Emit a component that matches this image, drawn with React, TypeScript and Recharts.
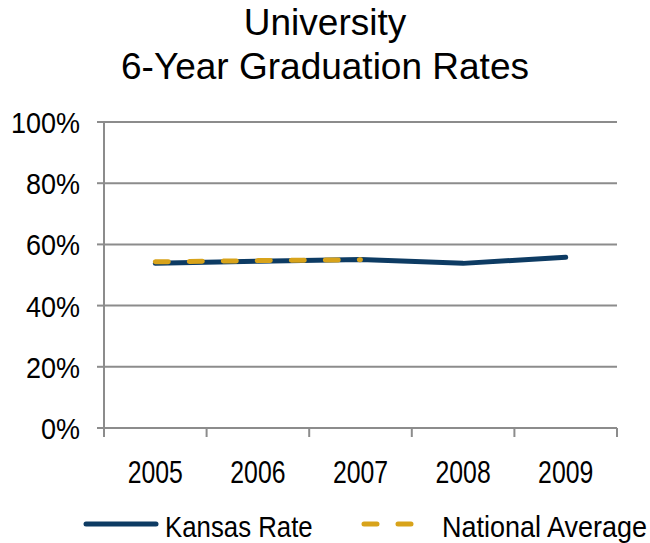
import { LineChart, Line, XAxis, YAxis, CartesianGrid, Legend } from "recharts";

const years = ["2005", "2006", "2007", "2008", "2009"];
const kansasRate = [53.8, 54.5, 55.1, 53.8, 55.8];
const nationalAverage: (number | null)[] = [54.3, 54.7, 55.0, null, null];
const yTicks = [0, 20, 40, 60, 80, 100];

const data = years.map((year, i) => ({
  year,
  kansas: kansasRate[i],
  national: nationalAverage[i],
}));

const W = 650;
const H = 543;
const LEFT = 104;
const RIGHT = 33;
const band = (W - LEFT - RIGHT) / years.length;
const gridColor = "#8c8c8c";
const navy = "#0d3b63";
const gold = "#d8a31a";
const font = "'Liberation Sans', Arial, sans-serif";

// the reference uses a condensed face, so squeeze the regular one
const CondText = ({ x, y, size, sx, anchor, children }: any) => (
  <text
    transform={`translate(${x},${y}) scale(${sx},1)`}
    textAnchor={anchor}
    fontSize={size}
    fill="#000"
    fontFamily={font}
  >
    {children}
  </text>
);

const YearTick = (props: any) => {
  const { x, y, payload, index } = props;
  const last = index === years.length - 1;
  return (
    <g>
      <line x1={x - band / 2} x2={x - band / 2} y1={y} y2={y + 9} stroke={gridColor} strokeWidth={2} />
      {last && (
        <line x1={x + band / 2} x2={x + band / 2} y1={y} y2={y + 9} stroke={gridColor} strokeWidth={2} />
      )}
      <CondText x={x} y={y + 55} size={31} sx={0.8} anchor="middle">
        {payload.value}
      </CondText>
    </g>
  );
};

const PctTick = (props: any) => {
  const { y, payload } = props;
  return (
    <CondText x={80} y={y + 11} size={30} sx={0.9} anchor="end">
      {`${payload.value}%`}
    </CondText>
  );
};

const LegendContent = () => (
  <svg width={W} height={55} style={{ display: "block" }}>
    <line x1={86} x2={156} y1={36} y2={36} stroke={navy} strokeWidth={5} strokeLinecap="round" />
    <CondText x={165} y={49} size={30} sx={0.86} anchor="start">
      Kansas Rate
    </CondText>
    <line x1={364} x2={411} y1={36} y2={36} stroke={gold} strokeWidth={5} strokeLinecap="round" strokeDasharray="13 21" />
    <CondText x={442} y={49} size={30} sx={0.9} anchor="start">
      National Average
    </CondText>
  </svg>
);

export default function App() {
  return (
    <div style={{ position: "absolute", left: 0, top: 0, width: W, height: H, background: "#fff" }}>
      <div
        style={{
          position: "absolute",
          left: 0,
          top: 1,
          width: W,
          textAlign: "center",
          fontFamily: font,
          fontSize: 37,
          lineHeight: "44px",
          color: "#000",
        }}
      >
        University
        <br />
        6-Year Graduation Rates
      </div>
      <LineChart width={W} height={H} data={data} margin={{ top: 122, right: RIGHT, bottom: 0, left: 0 }}>
        <CartesianGrid vertical={false} stroke={gridColor} strokeWidth={2} />
        <XAxis
          dataKey="year"
          height={60}
          padding={{ left: band / 2, right: band / 2 }}
          axisLine={{ stroke: gridColor, strokeWidth: 2 }}
          tickLine={false}
          tickMargin={0}
          tickSize={0}
          tick={<YearTick />}
          interval={0}
        />
        <YAxis
          width={LEFT}
          domain={[0, 100]}
          ticks={yTicks}
          axisLine={{ stroke: gridColor, strokeWidth: 2 }}
          tickLine={{ stroke: gridColor, strokeWidth: 2 }}
          tickSize={7}
          tick={<PctTick />}
        />
        <Legend
          verticalAlign="bottom"
          height={55}
          content={<LegendContent />}
          wrapperStyle={{ left: 0, bottom: 0, width: W }}
        />
        <Line
          dataKey="kansas"
          name="Kansas Rate"
          stroke={navy}
          strokeWidth={5}
          strokeLinecap="round"
          dot={false}
          isAnimationActive={false}
        />
        <Line
          dataKey="national"
          name="National Average"
          stroke={gold}
          strokeWidth={5}
          strokeLinecap="round"
          strokeDasharray="13 21"
          dot={false}
          isAnimationActive={false}
        />
      </LineChart>
    </div>
  );
}
